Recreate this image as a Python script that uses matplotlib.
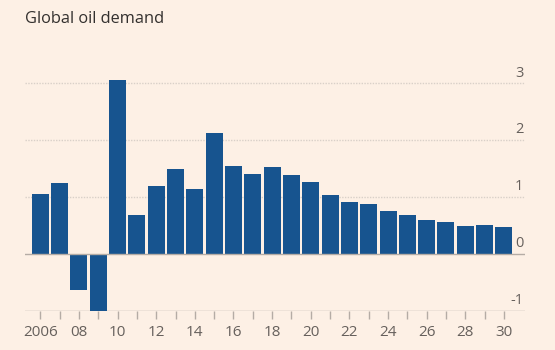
import numpy as np
import matplotlib.pyplot as plt

# Global oil demand growth, mb/d
years = list(range(2006, 2031))
demand = [1.06, 1.25, -0.64, -1.04, 3.06, 0.68, 1.19, 1.49, 1.15, 2.12,
          1.54, 1.41, 1.52, 1.38, 1.26, 1.03, 0.92, 0.87, 0.76, 0.69,
          0.60, 0.56, 0.49, 0.50, 0.47]
tick_years = list(range(2006, 2031, 2))
tick_labels = ['2006'] + ['%02d' % (y % 100) for y in tick_years[1:]]
y_ticks = [-1, 0, 1, 2, 3]

bg = '#fdf0e5'
bar_color = '#17548f'
grey = '#66605c'

plt.rcParams['font.family'] = ['Open Sans', 'DejaVu Sans']

fig = plt.figure(figsize=(5.55, 3.5), dpi=100, facecolor=bg)
ax = fig.add_axes([25 / 555, 0.1123, 500 / 555, 0.6900])
ax.set_facecolor(bg)

ax.bar(years, demand, width=0.88, color=bar_color, zorder=3)

ax.set_xlim(2005.21, 2031.09)
ax.set_ylim(-1, 3.25)

# gridlines: dotted for positive values, solid for 0 and -1
for v in y_ticks:
    if v > 0:
        ax.axhline(v, color='#d9d0c8', lw=1, ls=(0, (1, 1)), zorder=1)
    else:
        ax.axhline(v, color='#b5aca5', lw=1, zorder=4 if v == 0 else 1)
    ax.text(2031.0, v + 0.05, str(v), ha='right', va='bottom',
            fontsize=10.5, color=grey, zorder=5)

for s in ax.spines.values():
    s.set_visible(False)

ax.set_yticks([])
ax.set_xticks(years, minor=True)
ax.set_xticks(tick_years)
ax.set_xticklabels(tick_labels)
ax.tick_params(axis='x', which='both', length=6, width=1, color='#b5aca5',
               labelsize=11, labelcolor=grey, pad=4)
ax.tick_params(axis='x', which='minor', labelbottom=False)

fig.text(25 / 555, 1 - 19 / 350, 'Global oil demand', ha='left', va='center',
         fontsize=11.8, color='#33302e')

fig.savefig('out.png', dpi=100, facecolor=bg)
